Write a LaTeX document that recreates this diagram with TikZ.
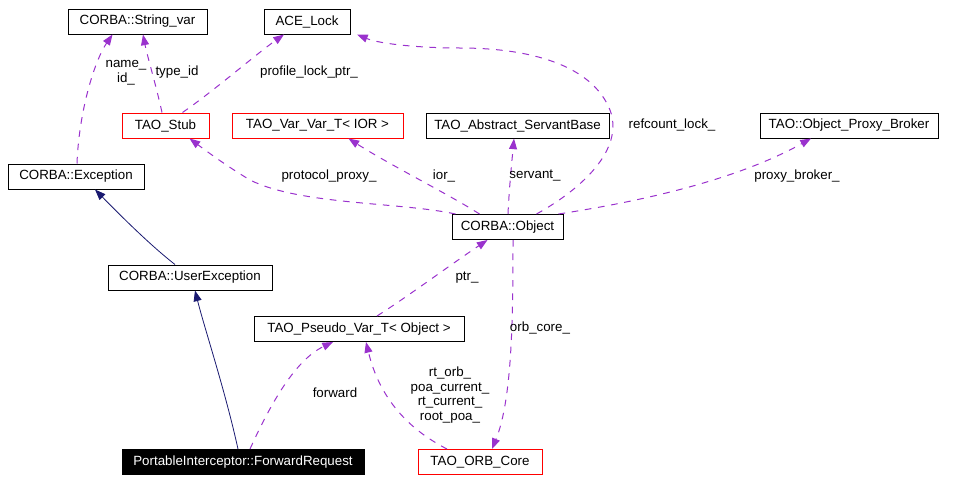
\documentclass[tikz,border=0pt]{standalone}
\usepackage{fontspec}
\setmainfont{Liberation Sans}
\usetikzlibrary{arrows.meta,calc}
\definecolor{edgepurple}{HTML}{9A32CD}
\definecolor{edgenavy}{HTML}{191970}
\tikzset{
  cls/.style={draw=black,line width=0.75pt,minimum height=18.75pt,inner sep=0pt,font=\fontsize{10}{11}\selectfont},
  redcls/.style={cls,draw=red},
  lbl/.style={font=\fontsize{10}{11}\selectfont,align=center,inner sep=0pt},
  usage/.style={draw=edgepurple,line width=0.75pt,dash pattern=on 5pt off 5pt,-{Triangle[length=8pt,width=6pt]},arrows={-{Triangle[length=8pt,width=6pt,fill=edgepurple]}}},
  inherit/.style={draw=edgenavy,line width=0.6pt,-{Triangle[length=8pt,width=6pt,fill=edgenavy]}}
}
\begin{document}
\begin{tikzpicture}[x=0.75pt,y=-0.75pt]
\useasboundingbox (0,0) rectangle (967,482);
% nodes
\node[cls,minimum width=104.25pt] (strvar) at (137.5,21.5) {CORBA::String\_var};
\node[cls,minimum width=64.5pt] (acelock) at (307,21.5) {ACE\_Lock};
\node[redcls,minimum width=65.25pt] (stub) at (165.5,125.5) {TAO\_Stub};
\node[redcls,minimum width=128.25pt] (varvar) at (317.5,125.5) {TAO\_Var\_Var\_T< IOR >};
\node[cls,minimum width=137.25pt] (servant) at (517.5,125.5) {TAO\_Abstract\_ServantBase};
\node[cls,minimum width=133.5pt] (broker) at (849,125.5) {TAO::Object\_Proxy\_Broker};
\node[cls,minimum width=102pt] (exception) at (76,176.5) {CORBA::Exception};
\node[cls,minimum width=83.25pt] (object) at (507.5,227) {CORBA::Object};
\node[cls,minimum width=123pt] (userexc) at (190,277.5) {CORBA::UserException};
\node[cls,minimum width=157.5pt] (pseudo) at (359,329) {TAO\_Pseudo\_Var\_T< Object >};
\node[cls,fill=black,text=white,minimum width=181.5pt] (fwdreq) at (243,462) {PortableInterceptor::ForwardRequest};
\node[redcls,minimum width=93pt] (orbcore) at (480,462) {TAO\_ORB\_Core};
% inheritance
\draw[inherit] ($(userexc.north)+(-15,0)$) .. controls (150,245) and (120,215) .. ($(exception.south)+(19,0)$);
\draw[inherit] ($(fwdreq.north)+(-5,0)$) .. controls (225,390) and (205,330) .. ($(userexc.south)+(5,0)$);
% usage
\draw[usage] ($(exception.north)+(1,0)$) .. controls (79,110) and (95,60) .. ($(strvar.south)+(-25,0)$);
\node[lbl] (lname) at (126,73) {name\_\\id\_};
\draw[usage] ($(stub.north)+(-3.5,0)$) .. controls (156,85) and (147,55) .. ($(strvar.south)+(5.5,0)$);
\node[lbl] (ltype) at (177,72) {type\_id};
\draw[usage] ($(stub.north)+(17,0)$) .. controls (215,90) and (255,55) .. ($(acelock.south)+(-23,0)$);
\node[lbl] (lprof) at (309,72) {profile\_lock\_ptr\_};
\draw[usage] ($(object.north)+(29,0)$) .. controls (580,190) and (625,150) .. (610,110) .. controls (592,65) and (530,48) .. (460,48) .. controls (420,48) and (380,44) .. ($(acelock.south)+(50,0)$);
\node[lbl] (lref) at (672,125) {refcount\_lock\_};
\draw[usage] ($(object.north west)+(4,0)$) .. controls (400,202) and (300,205) .. (250,180) .. controls (225,165) and (205,150) .. ($(stub.south)+(24,0)$);
\node[lbl] (lproto) at (329,176) {protocol\_proxy\_};
\draw[usage] ($(object.north)+(-28,0)$) .. controls (450,195) and (390,165) .. ($(varvar.south)+(31,0)$);
\node[lbl] (lior) at (444,176) {ior\_};
\draw[usage] ($(object.north)+(0.5,0)$) .. controls (509,190) and (512,160) .. ($(servant.south)+(-3.5,0)$);
\node[lbl] (lserv) at (535,176) {servant\_};
\draw[usage] ($(object.north east)+(-5,0)$) .. controls (650,200) and (740,178) .. ($(broker.south)+(-38,0)$);
\node[lbl] (lproxy) at (797,176) {proxy\_broker\_};
\draw[usage] ($(fwdreq.north)+(7,0)$) .. controls (270,405) and (295,360) .. ($(pseudo.south)+(-26,0)$);
\node[lbl] (lfwd) at (335,393) {forward};
\draw[usage] ($(pseudo.north)+(18,0)$) .. controls (410,295) and (450,265) .. ($(object.south)+(-20,0)$);
\node[lbl] (lptr) at (467,278) {ptr\_};
\draw[usage] ($(object.south)+(5.5,0)$) .. controls (513,320) and (512,400) .. ($(orbcore.north)+(12,0)$);
\node[lbl] (lorb) at (540,328) {orb\_core\_};
\draw[usage] ($(orbcore.north)+(-33,0)$) .. controls (410,430) and (380,400) .. ($(pseudo.south)+(7,0)$);
\node[lbl] (lrt) at (450,395) {rt\_orb\_\\poa\_current\_\\rt\_current\_\\root\_poa\_};
\end{tikzpicture}
\end{document}
